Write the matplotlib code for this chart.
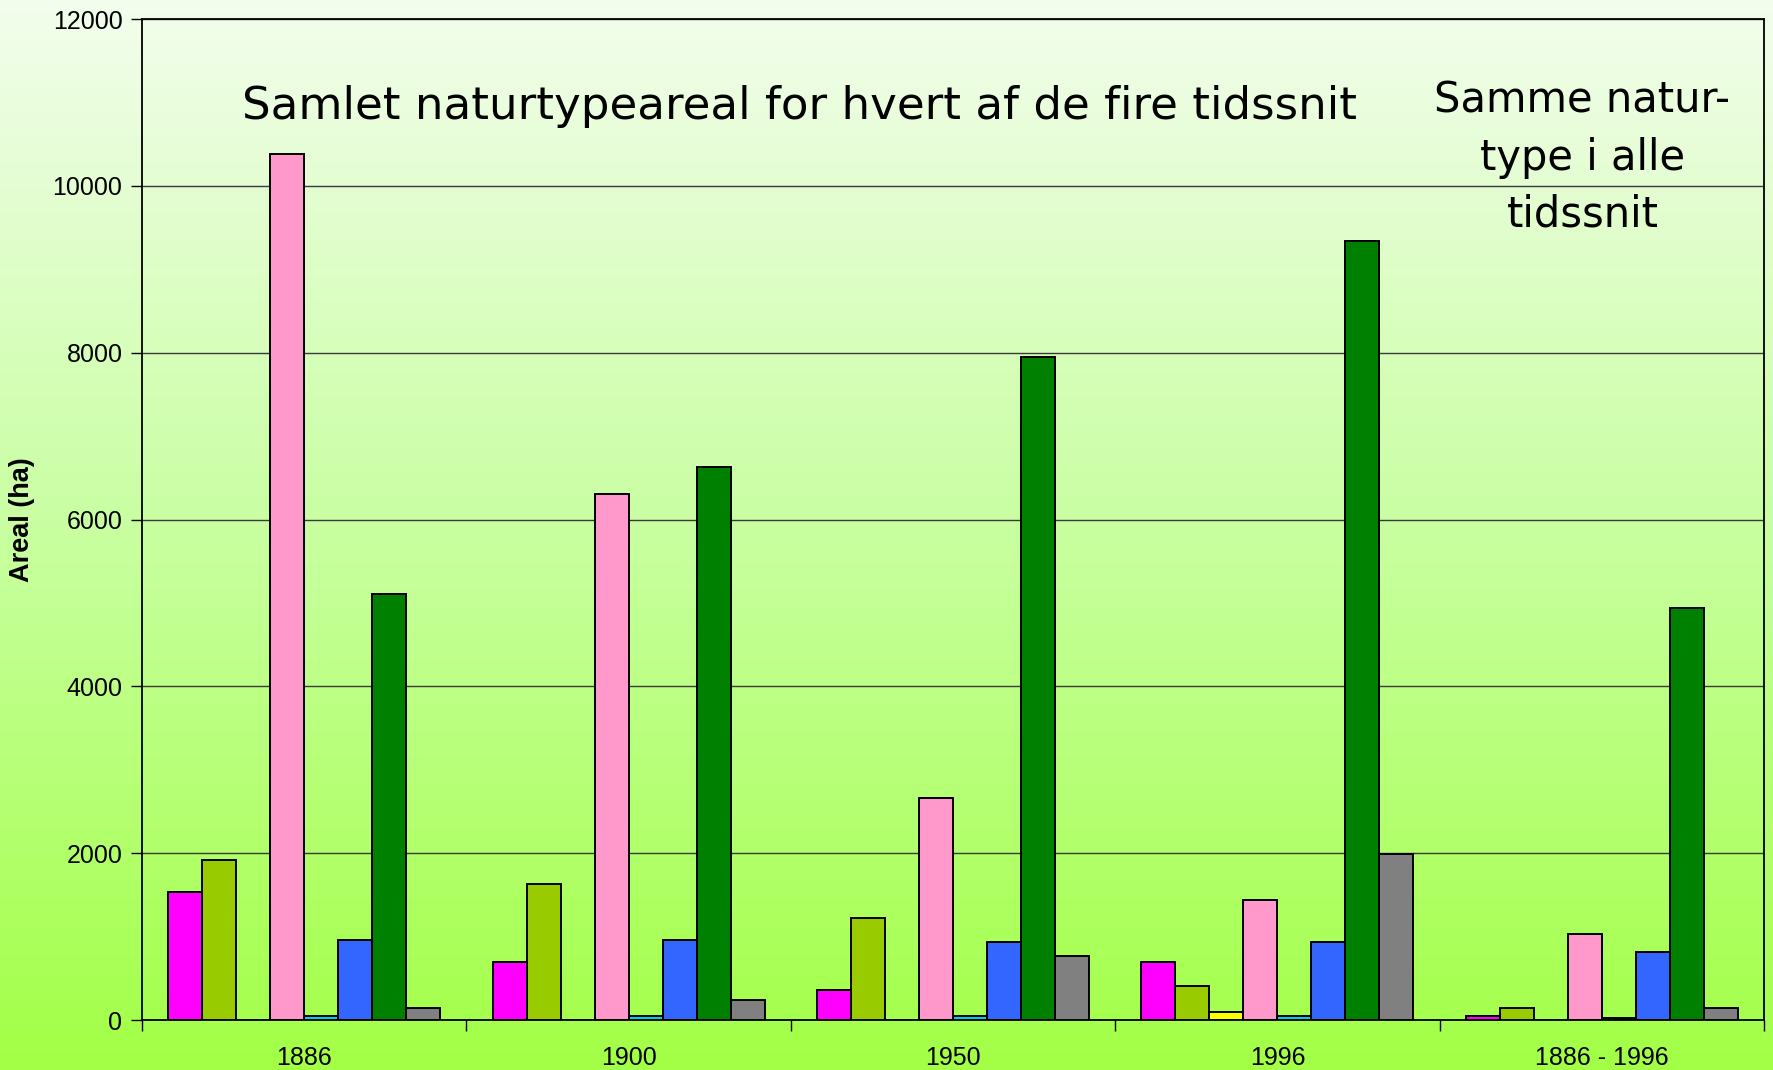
import numpy as np
import matplotlib
matplotlib.use("Agg")
from matplotlib import pyplot as plt
from matplotlib.colors import LinearSegmentedColormap

# Data
periods  = ["1886", "1900", "1950", "1996", "1886 - 1996"]
magenta  = [1540, 700, 365, 700, 50]
olive    = [1920, 1635, 1225, 410, 150]
yellow   = [0, 0, 0, 100, 0]
pink     = [10380, 6310, 2665, 1440, 1035]
cyan     = [50, 50, 50, 50, 25]
blue     = [965, 965, 940, 940, 820]
dgreen   = [5110, 6625, 7945, 9340, 4940]
gray     = [150, 245, 770, 1990, 150]

series = [magenta, olive, yellow, pink, cyan, blue, dgreen, gray]
colors = ["#FF00FF", "#99CC00", "#FFFF00", "#FF99CC",
          "#00CCFF", "#3366FF", "#008000", "#808080"]

# Figure with vertical gradient background
fig = plt.figure( figsize=(17.73, 10.70), dpi=100 )
bg = fig.add_axes( [0, 0, 1, 1], zorder=-10 )
grad = np.linspace( 0, 1, 256 ).reshape( -1, 1 )
cmap = LinearSegmentedColormap.from_list( "bg", ["#F3FDED", "#C8FFA0", "#A2FF45"] )
bg.imshow( grad, aspect="auto", cmap=cmap, extent=[0, 1, 0, 1], origin="upper" )
bg.axis( "off" )

ax = fig.add_axes( [0.080, 0.0467, 0.915, 0.9355] )
ax.set_facecolor( "none" )

n     = len( series )
width = 34/324.4
x     = np.arange( len( periods ) )
for i, (vals, col) in enumerate( zip( series, colors ) ):
    offs = ( i - (n - 1)/2 )*width
    ax.bar( x + offs, vals, width=width, color=col, edgecolor="black",
            linewidth=1.4, zorder=3 )

ax.set_xlim( -0.5, len( periods ) - 0.5 )
ax.set_ylim( 0, 12000 )
ax.set_yticks( np.arange( 0, 12001, 2000 ) )
ax.set_xticks( x )
ax.set_xticklabels( periods, fontsize=18, family="Liberation Sans" )
ax.tick_params( axis="x", length=0, pad=19 )
ax.set_xticks( np.arange( -0.5, len( periods ), 1 ), minor=True )
ax.tick_params( axis="x", which="minor", length=8, width=1, direction="out" )
ax.tick_params( axis="y", length=8, width=1, labelsize=18, pad=6 )
for lbl in ax.get_yticklabels():
    lbl.set_family( "Liberation Sans" )
ax.grid( axis="y", color="#3a3a3a", linewidth=1, zorder=1 )
for s in ax.spines.values():
    s.set_color( "black" )
    s.set_linewidth( 1.3 )

ax.set_ylabel( "Areal (ha)", fontsize=19.5, fontweight="bold",
               family="Liberation Sans" )
ax.yaxis.set_label_coords( -0.066, 0.5 )

# Annotations
ax.text( 1.528, 10950, "Samlet naturtypeareal for hvert af de fire tidssnit",
         fontsize=32.5, ha="center", va="center", family="DejaVu Sans", zorder=5 )
ax.text( 3.94, 10340, "Samme natur-\ntype i alle\ntidssnit",
         fontsize=30, ha="center", va="center", family="DejaVu Sans",
         linespacing=1.45, zorder=5 )

fig.savefig( "out.png", dpi=100 )
